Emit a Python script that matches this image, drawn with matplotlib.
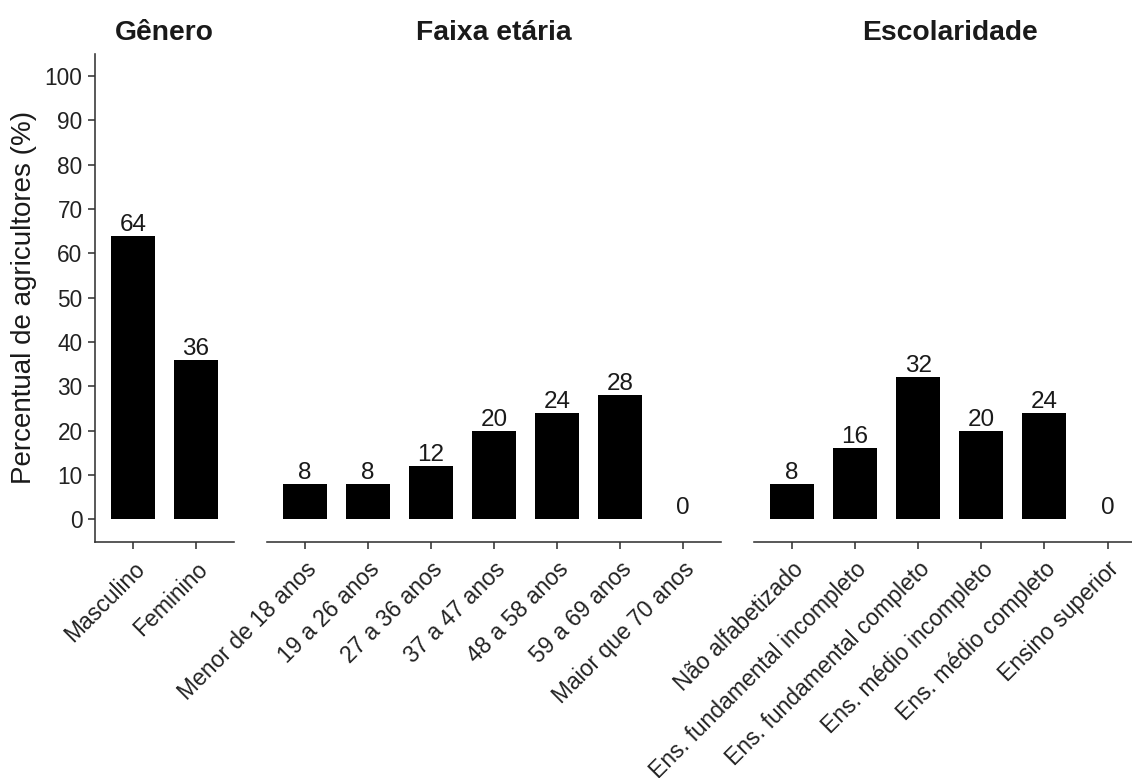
import matplotlib
matplotlib.use("Agg")
import matplotlib.pyplot as plt

plt.rcParams['font.family'] = ['Liberation Sans', 'DejaVu Sans']

# ---- data ----
genero_cats = ["Masculino", "Feminino"]
genero_vals = [64, 36]

faixa_cats = ["Menor de 18 anos", "19 a 26 anos", "27 a 36 anos", "37 a 47 anos",
              "48 a 58 anos", "59 a 69 anos", "Maior que 70 anos"]
faixa_vals = [8, 8, 12, 20, 24, 28, 0]

escol_cats = ["Não alfabetizado", "Ens. fundamental incompleto", "Ens. fundamental completo",
              "Ens. médio incompleto", "Ens. médio completo", "Ensino superior"]
escol_vals = [8, 16, 32, 20, 24, 0]

panel_titles = ["Gênero", "Faixa etária", "Escolaridade"]
y_ticks = list(range(0, 101, 10))
y_title = "Percentual de agricultores (%)"

# ---- layout ----
W, H = 1132, 778
fig = plt.figure(figsize=(W / 100, H / 100), dpi=100)

unit = 63.1
y_top_px, y_bot_px = 53.8, 541.5
bottom = 1 - y_bot_px / H
height = (y_bot_px - y_top_px) / H
first_tick_px = [132.9, 304.6, 792.0]

panels = [(genero_cats, genero_vals), (faixa_cats, faixa_vals), (escol_cats, escol_vals)]
axcol = '#333333'
txtcol = '#222222'

for i, ((cats, vals), title) in enumerate(zip(panels, panel_titles)):
    n = len(cats)
    left_px = first_tick_px[i] - 0.6 * unit
    width_px = (n + 0.2) * unit
    ax = fig.add_axes([left_px / W, bottom, width_px / W, height])
    xs = list(range(n))
    ax.bar(xs, vals, width=0.7, color='black', linewidth=0)
    for x, v in zip(xs, vals):
        ax.annotate(f"{v}", (x, v), xytext=(0, 3.6), textcoords='offset points',
                    ha='center', va='baseline', fontsize=17.5, color='#1a1a1a')
    ax.set_xlim(-0.6, n - 0.4)
    ax.set_ylim(-5, 105)
    ax.set_xticks(xs)
    ax.set_xticklabels(cats, rotation=45, ha='right', va='top', rotation_mode='anchor',
                       fontsize=16.5, color=txtcol)
    ax.tick_params(axis='x', length=5, width=1.15, color=axcol, pad=6.5)
    for s in ['top', 'right']:
        ax.spines[s].set_visible(False)
    ax.spines['bottom'].set_color(axcol)
    ax.spines['bottom'].set_linewidth(1.15)
    if i == 0:
        ax.spines['left'].set_color(axcol)
        ax.spines['left'].set_linewidth(1.15)
        ax.set_yticks(y_ticks)
        ax.set_yticklabels([str(t) for t in y_ticks], fontsize=16.3, color=txtcol)
        ax.tick_params(axis='y', length=5, width=1.15, color=axcol, pad=4)
    else:
        ax.spines['left'].set_visible(False)
        ax.set_yticks([])
    ax.set_title(title, fontsize=20.3, fontweight='bold', color='#1a1a1a', pad=9.9)
    ax.patch.set_alpha(0)

fig.text(24 / W, 1 - 297.6 / H, y_title, rotation=90, ha='center', va='center',
         fontsize=20, color='#1a1a1a')

fig.savefig("out.png", dpi=100, facecolor='white')
